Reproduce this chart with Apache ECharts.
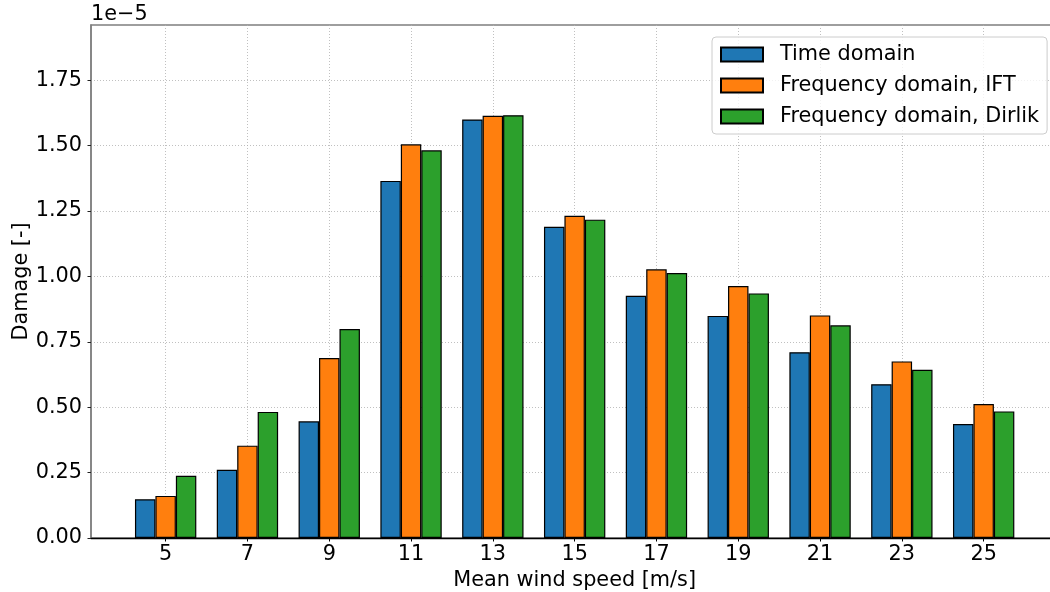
<!DOCTYPE html>
<html>
<head>
<meta charset="utf-8">
<script src="https://cdn.jsdelivr.net/npm/echarts@6/dist/echarts.min.js"></script>
<style>
html,body{margin:0;padding:0;background:#fff;}
#chart{width:1050px;height:592px;}
</style>
</head>
<body>
<div id="chart"></div>
<script>
// Mean wind speed categories [m/s]
const windSpeeds = [5, 7, 9, 11, 13, 15, 17, 19, 21, 23, 25];
// Damage values, in units of 1e-5
const timeDomain = [0.148, 0.261, 0.446, 1.365, 1.600, 1.190, 0.926, 0.849, 0.710, 0.588, 0.436];
const freqIFT    = [0.161, 0.353, 0.688, 1.505, 1.614, 1.232, 1.027, 0.963, 0.851, 0.675, 0.512];
const freqDirlik = [0.238, 0.482, 0.799, 1.482, 1.616, 1.217, 1.013, 0.935, 0.813, 0.643, 0.484];
const yTicks = [0, 0.25, 0.5, 0.75, 1.0, 1.25, 1.5, 1.75];
const seriesNames = ['Time domain', 'Frequency domain, IFT', 'Frequency domain, Dirlik'];
const colors = ['#1f77b4', '#ff7f0e', '#2ca02c'];

const FONT = 'DejaVu Sans';
const FS = 20.8;

const chart = echarts.init(document.getElementById('chart'), null, {renderer: 'canvas'});

function pairs(vals) { return windSpeeds.map((x, i) => [x, vals[i]]); }

const allSeries = [timeDomain, freqIFT, freqDirlik].map((vals, k) => ({
  name: seriesNames[k],
  type: 'bar',
  data: pairs(vals),
  barWidth: 20.45,
  barGap: '0%',
  itemStyle: { color: colors[k], borderColor: '#000', borderWidth: 1.2 },
  emphasis: { disabled: true },
  animation: false
}));

chart.setOption({
  animation: false,
  textStyle: { fontFamily: FONT },
  grid: {
    left: 91, top: 25, width: 967.3, height: 513,
    containLabel: false, outerBoundsMode: 'none',
    show: true, borderColor: '#7f7f7f', borderWidth: 1.5, backgroundColor: 'transparent'
  },
  graphic: [{
    type: 'text', left: 91, top: 4,
    style: { text: '1e\u22125', font: FS + 'px "' + FONT + '"', fill: '#000' }
  }],
  legend: {
    left: 712, top: 37,
    orient: 'vertical',
    icon: 'rect',
    itemWidth: 42, itemHeight: 14, itemGap: 10,
    padding: [7, 8, 7, 8],
    borderColor: '#cccccc', borderWidth: 1, borderRadius: 4,
    backgroundColor: 'rgba(255,255,255,0.8)',
    textStyle: { fontFamily: FONT, fontSize: FS, color: '#000', padding: [0, 0, 0, 12] },
    data: seriesNames
  },
  xAxis: {
    type: 'value',
    min: 3.175, max: 26.825,
    name: 'Mean wind speed [m/s]',
    nameLocation: 'middle', nameGap: 32, nameMoveOverlap: false,
    nameTextStyle: { fontFamily: FONT, fontSize: FS, color: '#000' },
    axisLine: { show: true, lineStyle: { color: '#000', width: 1.3 } },
    axisTick: { show: true, customValues: windSpeeds, length: 3.5, lineStyle: { color: '#000', width: 1 } },
    axisLabel: { customValues: windSpeeds, margin: 6, fontFamily: FONT, fontSize: FS, color: '#000' },
    splitLine: { show: true, lineStyle: { color: '#b0b0b0', width: 0.8, type: [1, 2] } }
  },
  yAxis: {
    type: 'value',
    min: 0, max: 1.961, interval: 0.25,
    name: 'Damage [-]',
    nameLocation: 'middle', nameGap: 59, nameMoveOverlap: false,
    nameTextStyle: { fontFamily: FONT, fontSize: FS, color: '#000' },
    axisLine: { show: true, lineStyle: { color: '#7f7f7f', width: 1.5 } },
    axisTick: { show: true, customValues: yTicks, length: 3.5, lineStyle: { color: '#222', width: 1 } },
    axisLabel: { customValues: yTicks, margin: 9, fontFamily: FONT, fontSize: FS, color: '#000',
                 formatter: v => v.toFixed(2) },
    splitLine: { show: true, lineStyle: { color: '#b0b0b0', width: 0.8, type: [1, 2] } }
  },
  series: allSeries
});
</script>
</body>
</html>
